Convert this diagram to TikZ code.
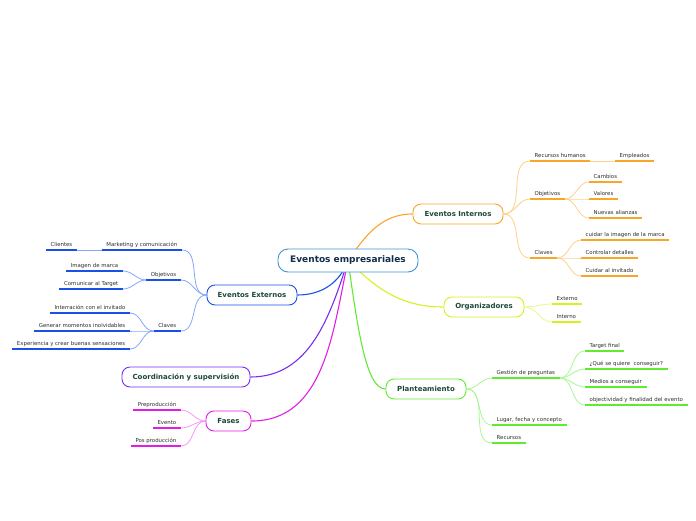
\documentclass[tikz,border=0pt]{standalone}
\usepackage{fontspec}
\setmainfont{DejaVu Sans}
\usetikzlibrary{backgrounds}
\definecolor{rootblue}{RGB}{66,150,210}
\definecolor{roottext}{RGB}{20,45,75}
\definecolor{nodetext}{RGB}{28,72,58}
\definecolor{labelgray}{RGB}{45,45,45}
\definecolor{intorange}{RGB}{247,166,40}
\definecolor{intlight}{RGB}{253,208,140}
\definecolor{orgyellow}{RGB}{216,240,30}
\definecolor{orglight}{RGB}{232,248,140}
\definecolor{plgreen}{RGB}{96,235,50}
\definecolor{pllight}{RGB}{170,246,150}
\definecolor{extblue}{RGB}{26,80,230}
\definecolor{extlight}{RGB}{135,165,248}
\definecolor{coordpurple}{RGB}{120,45,240}
\definecolor{fasesmagenta}{RGB}{226,30,230}
\definecolor{faseslight}{RGB}{245,150,245}

\begin{document}
\begin{tikzpicture}[
    x=1pt, y=1pt,
    root/.style={rectangle, draw=rootblue, fill=white, rounded corners=10pt, line width=0.9pt, minimum height=23pt, font=\fontsize{9}{10}\selectfont\bfseries, text=roottext},
    topic/.style={rectangle, draw=#1, fill=white, rounded corners=8pt, line width=0.9pt, minimum height=20pt, font=\fontsize{7}{8}\selectfont\bfseries, text=nodetext},
    leaf/.style={font=\fontsize{5.4}{6}\selectfont, text=labelgray, inner xsep=4.5pt, inner ysep=2pt, text height=4pt, text depth=1pt, append after command={(\tikzlastnode.south west) edge[draw=#1, line width=1.6pt] (\tikzlastnode.south east)}},
    branch/.style={draw=#1, line width=1.1pt},
    twig/.style={draw=#1, line width=0.8pt}
]
    \useasboundingbox (0,0) rectangle (696,-520);

    % Start
    \node[root, minimum width=140pt] (root) at (348,-260.5) {Eventos empresariales};

    % Level 1
    \node[topic=intorange, minimum width=90pt] (int) at (458,-214) {Eventos Internos};
    \node[topic=orgyellow, minimum width=80pt] (org) at (484,-307) {Organizadores};
    \node[topic=plgreen, minimum width=80pt] (plan) at (426,-389) {Planteamiento};
    \node[topic=extblue, minimum width=90pt] (ext) at (252,-295) {Eventos Externos};
    \node[topic=coordpurple, minimum width=128pt] (coord) at (186,-377) {Coordinación y supervisión};
    \node[topic=fasesmagenta, minimum width=45pt] (fases) at (228.5,-421) {Fases};

    % Eventos Internos branch
    \node[leaf=intorange, anchor=south west] (rrhh) at (530,-161) {Recursos humanos};
    \node[leaf=intorange, anchor=south west] (empl) at (615,-161) {Empleados};
    \node[leaf=intorange, anchor=south west] (objint) at (530,-199) {Objetivos};
    \node[leaf=intorange, anchor=south west] (camb) at (589,-182) {Cambios};
    \node[leaf=intorange, anchor=south west] (valo) at (589,-199) {Valores};
    \node[leaf=intorange, anchor=south west] (alian) at (589,-218) {Nuevas alianzas};
    \node[leaf=intorange, anchor=south west] (clint) at (530,-258) {Claves};
    \node[leaf=intorange, anchor=south west] (imag) at (581,-240) {cuidar la imagen de la marca};
    \node[leaf=intorange, anchor=south west] (contr) at (581,-258) {Controlar detalles};
    \node[leaf=intorange, anchor=south west] (cuid) at (581,-276) {Cuidar al invitado};

    % Organizadores branch
    \node[leaf=orgyellow, anchor=south west] (exter) at (552,-304) {Externo};
    \node[leaf=orgyellow, anchor=south west] (inter) at (552,-322) {Interno};

    % Planteamiento branch
    \node[leaf=plgreen, anchor=south west] (gest) at (492,-378) {Gestión de preguntas};
    \node[leaf=plgreen, anchor=south west] (targ) at (585,-351) {Target final};
    \node[leaf=plgreen, anchor=south west] (quie) at (585,-369) {¿Qué se quiere\ \ conseguir?};
    \node[leaf=plgreen, anchor=south west] (medi) at (585,-387) {Medios a conseguir};
    \node[leaf=plgreen, anchor=south west] (objv) at (585,-405) {objectividad y finalidad del evento};
    \node[leaf=plgreen, anchor=south west] (luga) at (492,-425) {Lugar, fecha y concepto};
    \node[leaf=plgreen, anchor=south west] (recu) at (492,-443) {Recursos};

    % Eventos Externos branch
    \node[leaf=extblue, anchor=south east] (mark) at (182,-250) {Marketing y comunicación};
    \node[leaf=extblue, anchor=south east] (clie) at (77,-250) {Clientes};
    \node[leaf=extblue, anchor=south east] (objext) at (181,-280) {Objetivos};
    \node[leaf=extblue, anchor=south east] (imgm) at (123,-271) {Imagen de marca};
    \node[leaf=extblue, anchor=south east] (comu) at (123,-289) {Comunicar al Target};
    \node[leaf=extblue, anchor=south east] (clext) at (181,-331) {Claves};
    \node[leaf=extblue, anchor=south east] (inte) at (130,-313) {Interración con el invitado};
    \node[leaf=extblue, anchor=south east] (gene) at (130,-331) {Generar momentos inolvidables};
    \node[leaf=extblue, anchor=south east] (expe) at (130,-349) {Experiencia y crear buenas sensaciones};

    % Fases branch
    \node[leaf=fasesmagenta, anchor=south east] (prep) at (181,-410) {Preproducción};
    \node[leaf=fasesmagenta, anchor=south east] (even) at (181,-428) {Evento};
    \node[leaf=fasesmagenta, anchor=south east] (posp) at (181,-446) {Pos producción};

    % Edges
    \begin{scope}[on background layer]
    \draw[branch=intorange] (root.center) to[out=55,in=180] (int.west);
    \draw[branch=orgyellow] (root.center) to[out=-45,in=180] (org.west);
    \draw[branch=plgreen] (root.center) .. controls (358,-330) and (366,-389) .. (plan.west);
    \draw[branch=extblue] (root.center) to[out=-110,in=0] (ext.east);
    \draw[branch=coordpurple] (root.center) to[out=-108,in=0] (coord.east);
    \draw[branch=fasesmagenta] (root.center) to[out=-102,in=0] (fases.east);

    \draw[twig=intlight] (int.east) to[out=0,in=180] (rrhh.south west);
    \draw[twig=intlight] (int.east) to[out=0,in=180] (objint.south west);
    \draw[twig=intlight] (int.east) to[out=0,in=180] (clint.south west);
    \draw[twig=intlight] (rrhh.south east) -- (empl.south west);
    \draw[twig=intlight] (objint.south east) to[out=0,in=180] (camb.south west);
    \draw[twig=intlight] (objint.south east) to[out=0,in=180] (valo.south west);
    \draw[twig=intlight] (objint.south east) to[out=0,in=180] (alian.south west);
    \draw[twig=intlight] (clint.south east) to[out=0,in=180] (imag.south west);
    \draw[twig=intlight] (clint.south east) to[out=0,in=180] (contr.south west);
    \draw[twig=intlight] (clint.south east) to[out=0,in=180] (cuid.south west);

    \draw[twig=orglight] (org.east) to[out=0,in=180] (exter.south west);
    \draw[twig=orglight] (org.east) to[out=0,in=180] (inter.south west);

    \draw[twig=pllight] (plan.east) to[out=0,in=180] (gest.south west);
    \draw[twig=pllight] (plan.east) to[out=0,in=180] (luga.south west);
    \draw[twig=pllight] (plan.east) to[out=0,in=180] (recu.south west);
    \draw[twig=pllight] (gest.south east) to[out=0,in=180] (targ.south west);
    \draw[twig=pllight] (gest.south east) to[out=0,in=180] (quie.south west);
    \draw[twig=pllight] (gest.south east) to[out=0,in=180] (medi.south west);
    \draw[twig=pllight] (gest.south east) to[out=0,in=180] (objv.south west);

    \draw[twig=extlight] (ext.west) to[out=180,in=0] (mark.south east);
    \draw[twig=extlight] (ext.west) to[out=180,in=0] (objext.south east);
    \draw[twig=extlight] (ext.west) to[out=180,in=0] (clext.south east);
    \draw[twig=extlight] (mark.south west) -- (clie.south east);
    \draw[twig=extlight] (objext.south west) to[out=180,in=0] (imgm.south east);
    \draw[twig=extlight] (objext.south west) to[out=180,in=0] (comu.south east);
    \draw[twig=extlight] (clext.south west) to[out=180,in=0] (inte.south east);
    \draw[twig=extlight] (clext.south west) to[out=180,in=0] (gene.south east);
    \draw[twig=extlight] (clext.south west) to[out=180,in=0] (expe.south east);

    \draw[twig=faseslight] (fases.west) to[out=180,in=0] (prep.south east);
    \draw[twig=faseslight] (fases.west) to[out=180,in=0] (even.south east);
    \draw[twig=faseslight] (fases.west) to[out=180,in=0] (posp.south east);
    \end{scope}
\end{tikzpicture}
\end{document}
